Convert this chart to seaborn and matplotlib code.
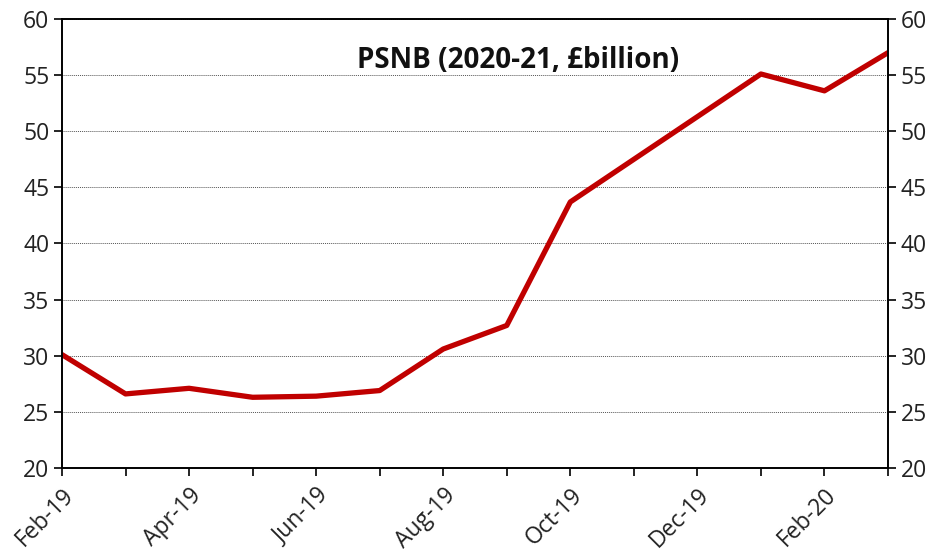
import matplotlib
matplotlib.use("Agg")
import matplotlib.pyplot as plt
import seaborn as sns
import pandas as pd

months = ["Feb-19", "Mar-19", "Apr-19", "May-19", "Jun-19", "Jul-19", "Aug-19",
          "Sep-19", "Oct-19", "Nov-19", "Dec-19", "Jan-20", "Feb-20", "Mar-20"]
psnb = [30.1, 26.6, 27.1, 26.3, 26.4, 26.9, 30.6, 32.7, 43.7, 47.5, 51.3, 55.1, 53.6, 57.0]
y_ticks = [20, 25, 30, 35, 40, 45, 50, 55, 60]

sns.set_style("white")
plt.rcParams["font.family"] = ["Open Sans", "DejaVu Sans"]

df = pd.DataFrame({"month": months, "psnb": psnb})

fig = plt.figure(figsize=(9.42, 5.56), dpi=100)
ax = fig.add_axes([62 / 942, 1 - 468 / 556, (888 - 62) / 942, (468 - 19) / 556])

sns.lineplot(data=df, x="month", y="psnb", ax=ax, color="#C00000", linewidth=3.8, sort=False)

ax.set_ylim(20, 60)
ax.set_xlim(0, len(months) - 1)
ax.set_yticks(y_ticks)
ax.yaxis.grid(True, linestyle=(0, (1, 1)), color="#555555", linewidth=0.7)
ax.set_axisbelow(True)
ax.tick_params(axis="y", which="both", direction="out", length=6, width=1.2,
               labelsize=16.5, left=True, right=True, labelleft=True, labelright=True,
               color="black", labelcolor="#222222", pad=3)

ax.set_xticks(range(len(months)))
ax.set_xticklabels([m if i % 2 == 0 else "" for i, m in enumerate(months)],
                   rotation=45, ha="right", va="top", rotation_mode="anchor")
ax.tick_params(axis="x", direction="out", length=6, width=1.2, labelsize=16.5,
               bottom=True, color="black", labelcolor="#222222", pad=5)

for side in ["left", "right", "top", "bottom"]:
    ax.spines[side].set_visible(True)
    ax.spines[side].set_color("black")
    ax.spines[side].set_linewidth(1.4)

ax.set_xlabel("")
ax.set_ylabel("")
ax.text(0.552, 0.908, "PSNB (2020-21, £billion)", transform=ax.transAxes,
        ha="center", va="center", fontsize=20, fontweight="bold", color="#111111")

fig.savefig("out.png", dpi=100)
